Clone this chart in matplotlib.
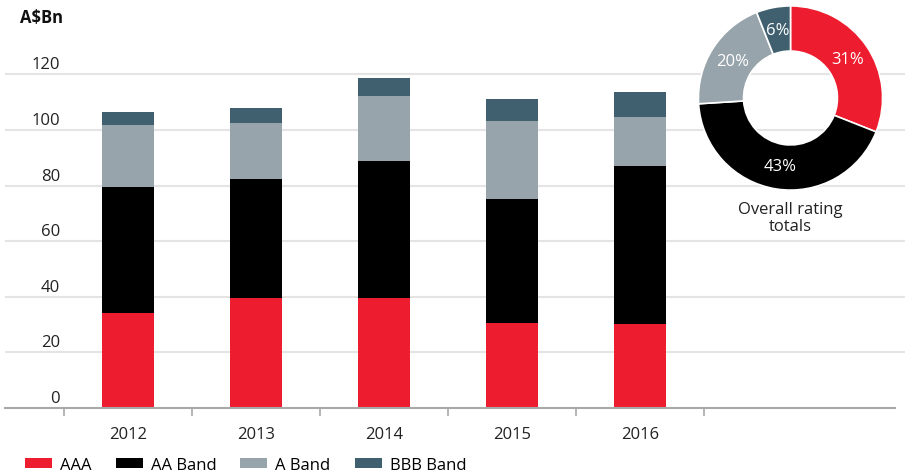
import numpy as np
import matplotlib.pyplot as plt
from matplotlib.patches import Patch
import matplotlib.transforms as mtransforms

plt.rcParams['font.family'] = ['Open Sans', 'DejaVu Sans']

# Values (A$Bn)
years = ['2012', '2013', '2014', '2015', '2016']
aaa = [34.0, 39.6, 39.6, 30.6, 30.2]
aa_band = [45.5, 42.9, 49.1, 44.6, 56.8]
a_band = [22.3, 20.0, 23.6, 28.0, 17.7]
bbb_band = [4.8, 5.3, 6.3, 8.0, 9.0]

# Overall rating totals (%)
donut_labels = ['AAA', 'AA Band', 'A Band', 'BBB Band']
donut_share = [31, 43, 20, 6]

colors = ['#ED1C2E', '#000000', '#97A4AB', '#40606F']
series = [aaa, aa_band, a_band, bbb_band]

W, H = 905, 477
fig = plt.figure(figsize=(W / 100, H / 100), dpi=100)

# main bar axes: pixel box x 5..905, y 409 (zero) upward
ymax = 132
px_per_unit = 2.78
top_px = 409 - ymax * px_per_unit
ax = fig.add_axes([5 / W, 1 - 409 / H, 900 / W, (409 - top_px) / H])

x = np.arange(len(years))
bottom = np.zeros(len(years))
for vals, col, lab in zip(series, colors, donut_labels):
    ax.bar(x, vals, width=0.4, bottom=bottom, color=col, label=lab, zorder=3)
    bottom += np.array(vals)

ax.set_xlim(-0.96, 6.07)
ax.set_ylim(0, ymax)

for s in ['top', 'right', 'left']:
    ax.spines[s].set_visible(False)
ax.spines['bottom'].set_color('#A8A8A8')
ax.spines['bottom'].set_linewidth(1.5)
ax.spines['bottom'].set_bounds(-0.96, 5.99)
ax.spines['bottom'].set_zorder(4)

# grid lines
yticks = [0, 20, 40, 60, 80, 100, 120]
for v in yticks[1:]:
    ax.axhline(v, color='#E4E4E4', lw=1.5, zorder=1)

ax.set_yticks([])
ax.set_xticks(x)
ax.set_xticklabels(years, fontsize=12, color='#222222')
ax.tick_params(axis='x', which='major', length=0, pad=13)
ax.set_xticks(np.arange(-0.5, 5.0, 1.0), minor=True)
ax.tick_params(axis='x', which='minor', length=6, width=1.2, color='#A8A8A8')

# y labels sit just above each gridline
offset = mtransforms.ScaledTranslation(0, 10 / 100, fig.dpi_scale_trans)
for v in yticks:
    ax.text(-0.53, v, str(v), ha='right', va='center', fontsize=12,
            color='#222222', transform=ax.transData + offset)

fig.text(20 / W, 1 - 18 / H, 'A$Bn', fontsize=12, fontweight='bold',
         ha='left', va='center', color='#111111')

# legend at the bottom
handles = [Patch(facecolor=c, label=l) for c, l in zip(colors, donut_labels)]
fig.legend(handles=handles, loc='center left', bbox_to_anchor=(25 / W, 1 - 466 / H),
           ncol=4, frameon=False, fontsize=12, handlelength=1.62,
           handleheight=0.55, handletextpad=0.48, columnspacing=1.45,
           borderpad=0, borderaxespad=0)

# donut
cx, cy, r = 790.5, 99, 93
dax = fig.add_axes([(cx - r) / W, 1 - (cy + r) / H, 2 * r / W, 2 * r / H])
wedges, texts, autotexts = dax.pie(
    donut_share, colors=colors, startangle=90, counterclock=False,
    autopct='%d%%', pctdistance=0.75, radius=1,
    wedgeprops=dict(width=0.49, edgecolor='white', linewidth=1.2),
    textprops=dict(color='white', fontsize=12))
dax.set_xlim(-1.01, 1.01)
dax.set_ylim(-1.01, 1.01)

fig.text(cx / W, 1 - 210 / H, 'Overall rating', ha='center', va='center',
         fontsize=12, color='#222222')
fig.text(cx / W, 1 - 227 / H, 'totals', ha='center', va='center',
         fontsize=12, color='#222222')

fig.savefig('out.png', dpi=100)
